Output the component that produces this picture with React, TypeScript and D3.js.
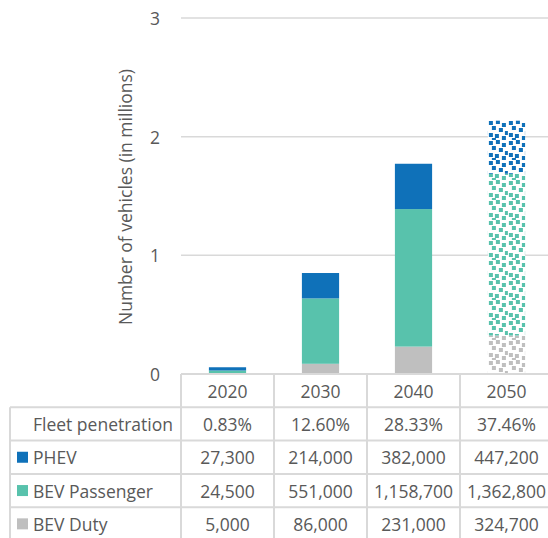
import React from 'react';
import * as d3 from 'd3';

const years = ['2020', '2030', '2040', '2050'];
const fleetPenetration = ['0.83%', '12.60%', '28.33%', '37.46%'];
const phev = [27300, 214000, 382000, 447200];
const bevPassenger = [24500, 551000, 1158700, 1362800];
const bevDuty = [5000, 86000, 231000, 324700];
const yTicks = [0, 1, 2, 3];
const patternedYears = ['2050'];

const seriesKeys = ['bevDuty', 'bevPassenger', 'phev'];
const seriesNames: Record<string, string> = { phev: 'PHEV', bevPassenger: 'BEV Passenger', bevDuty: 'BEV Duty' };
const seriesColors: Record<string, string> = { phev: '#0f71b9', bevPassenger: '#58c2ac', bevDuty: '#bfbfbf' };
const seriesValues: Record<string, number[]> = { phev, bevPassenger, bevDuty };
const tableOrder = ['phev', 'bevPassenger', 'bevDuty'];

const W = 548, H = 538;
const FONT = "'Open Sans', sans-serif";
const TEXT = '#595959';
const GRID = '#d9d9d9';

const confetti = [[1, 1], [8, 0], [14, 3], [4, 6], [11, 8], [17, 11], [1, 13], [7, 14], [14, 16], [4, 18]];

export default function App() {
  const x = d3.scaleBand<string>().domain(years).range([181, 553]).padding(0);
  const y = d3.scaleLinear().domain([0, 3]).range([374, 18]);
  const barW = x.bandwidth() * 0.4;

  const rows = years.map((yr, i) => {
    const r: any = { year: yr };
    seriesKeys.forEach(k => { r[k] = seriesValues[k][i] / 1e6; });
    return r;
  });
  const stacked = d3.stack<any>().keys(seriesKeys)(rows);

  const tableTop = 374;
  const rowH = 33.3;
  const tableLeft = 10;
  const colEdges = [...years.map(yr => x(yr)!), x.range()[1]];
  const fmt = d3.format(',');
  const fs = 17.5;

  const tableRows = [
    { label: 'Fleet penetration', key: null as string | null, values: fleetPenetration },
    ...tableOrder.map(k => ({ label: seriesNames[k], key: k, values: seriesValues[k].map(v => fmt(v)) })),
  ];

  return (
    <svg width={W} height={H} style={{ position: 'absolute', left: 0, top: 0, background: '#fff' }} fontFamily={FONT}>
      <defs>
        {seriesKeys.map(k => (
          <pattern key={k} id={`pat-${k}`} patternUnits="userSpaceOnUse" width={20} height={20}
            x={x('2050')! + (x.bandwidth() - barW) / 2} y={0}>
            <rect width={20} height={20} fill="#fff" />
            {confetti.map(([px, py], j) => (
              <rect key={j} x={px} y={py} width={4} height={4} fill={seriesColors[k]} />
            ))}
          </pattern>
        ))}
      </defs>
      {/* gridlines */}
      {yTicks.filter(t => t > 0).map(t => (
        <line key={t} x1={181} x2={W} y1={y(t)} y2={y(t)} stroke={GRID} strokeWidth={1.5} />
      ))}
      {/* y tick labels */}
      {yTicks.map(t => (
        <text key={t} x={160} y={y(t)} textAnchor="end" dominantBaseline="central" fontSize={fs} fill={TEXT}>{t}</text>
      ))}
      <text transform={`translate(125,${197}) rotate(-90)`} textAnchor="middle" dominantBaseline="central" fontSize={fs} fill={TEXT}>
        Number of vehicles (in millions)
      </text>
      {/* bars */}
      {stacked.map(s => (
        <g key={s.key}>
          {s.map((d, i) => {
            const yr = years[i];
            const patterned = patternedYears.includes(yr);
            return (
              <rect key={yr} x={x(yr)! + (x.bandwidth() - barW) / 2} width={barW}
                y={y(d[1])} height={Math.max(0, y(d[0]) - y(d[1]))}
                fill={patterned ? `url(#pat-${s.key})` : seriesColors[s.key]} />
            );
          })}
        </g>
      ))}
      {/* table */}
      <g>
        {years.map(yr => (
          <text key={yr} x={x(yr)! + x.bandwidth() / 2} y={tableTop + rowH / 2} textAnchor="middle" dominantBaseline="central" fontSize={fs} fill={TEXT}>{yr}</text>
        ))}
        {tableRows.map((r, ri) => {
          const cy = tableTop + rowH * (ri + 1) + rowH / 2;
          return (
            <g key={r.label}>
              {r.key ? (
                <>
                  <rect x={17} y={cy - 5.5} width={11} height={11} fill={seriesColors[r.key]} />
                  <text x={33} y={cy} dominantBaseline="central" fontSize={fs} fill={TEXT}>{r.label}</text>
                </>
              ) : (
                <text x={173} y={cy} textAnchor="end" dominantBaseline="central" fontSize={fs} fill={TEXT}>{r.label}</text>
              )}
              {r.values.map((v, ci) => (
                <text key={ci} x={x(years[ci])! + x.bandwidth() / 2} y={cy} textAnchor="middle" dominantBaseline="central" fontSize={fs} fill={TEXT}>{v}</text>
              ))}
            </g>
          );
        })}
        <line x1={181} x2={W} y1={tableTop} y2={tableTop} stroke={GRID} strokeWidth={2} />
        {tableRows.map((_, ri) => (
          <line key={ri} x1={tableLeft} x2={W} y1={tableTop + rowH * (ri + 1)} y2={tableTop + rowH * (ri + 1)} stroke={GRID} strokeWidth={2} />
        ))}
        <line x1={tableLeft} x2={tableLeft} y1={tableTop + rowH} y2={H + 5} stroke={GRID} strokeWidth={2} />
        {colEdges.map((cx, i) => (
          <line key={i} x1={cx} x2={cx} y1={tableTop} y2={H + 5} stroke={GRID} strokeWidth={2} />
        ))}
      </g>
    </svg>
  );
}
